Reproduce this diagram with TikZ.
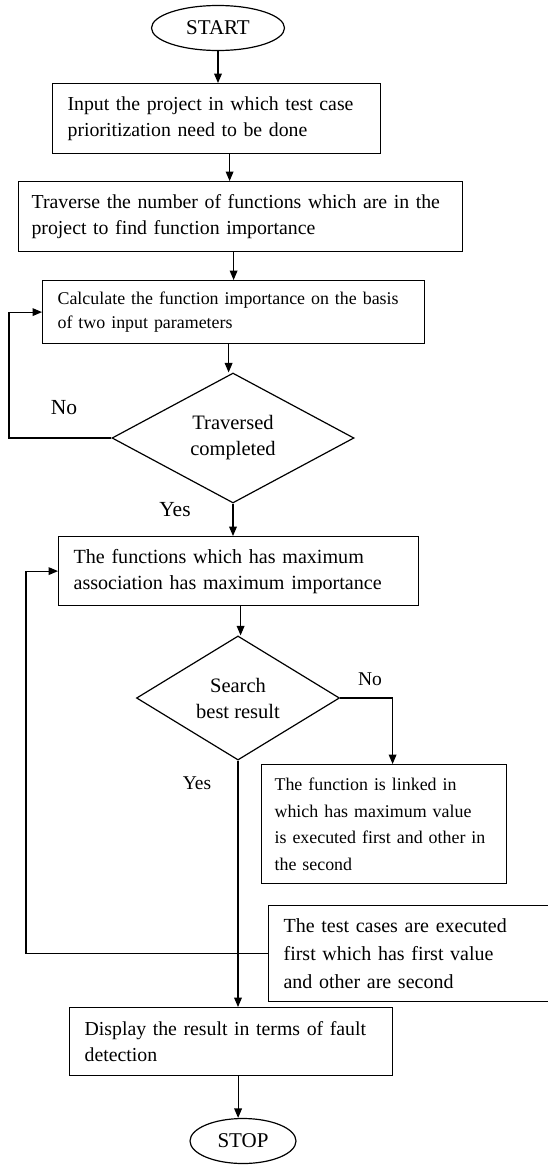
\documentclass[tikz,border=0pt]{standalone}
\usepackage{fontspec}
\setmainfont{Liberation Serif}
\usetikzlibrary{shapes.geometric,arrows}

\begin{document}
\begin{tikzpicture}[x=1pt,y=-1pt,>=triangle 45,line width=1.2pt,
        every node/.style={font=\fontsize{19.8}{26.5}\selectfont},
        smalltext/.style={font=\fontsize{17.9}{24}\selectfont},
        procbox/.style={draw,anchor=north west,align=left,inner xsep=15pt,inner ysep=0pt},
        decision/.style={draw,diamond,inner sep=0pt,align=center,font=\fontsize{20.5}{26}\selectfont},
        terminal/.style={draw,ellipse,inner sep=0pt,minimum height=45pt,font=\fontsize{21}{24}\selectfont},
        flow/.style={->},
        ]
        \useasboundingbox (0,0) rectangle (547,1165);
        \node (start) at (218,28) [terminal,minimum width=133pt] {START};
        \node (input) at (52,83) [procbox,text width=298pt,minimum height=70pt]
            {Input the project in which test case\\prioritization need to be done};
        \node (traverse) at (18,181) [procbox,inner xsep=13pt,text width=418pt,minimum height=70pt]
            {Traverse the number of functions which are in the\\project to find function importance};
        \node (calc) at (42,280) [procbox,smalltext,text width=352pt,minimum height=63pt]
            {Calculate the function importance on the basis\\of two input parameters};
        \node (travdone) at (233,438) [decision,minimum width=242pt,minimum height=113pt]
            {Traversed\\completed};
        \node (maxassoc) at (58,536) [procbox,font=\fontsize{20.1}{26}\selectfont,text width=330pt,minimum height=69pt]
            {The functions which has maximum\\association has maximum importance};
        \node (search) at (238,698) [decision,minimum width=203pt,minimum height=111pt]
            {Search\\best result};
        \node (linked) at (261,764) [procbox,inner xsep=13pt,font=\fontsize{17.9}{26.5}\selectfont,text width=219pt,minimum height=119pt]
            {The function is linked in\\which has maximum value\\is executed first and other in\\the second};
        \node (testcases) at (268,905) [procbox,font=\fontsize{20}{28}\selectfont,text width=252pt,minimum height=96pt]
            {The test cases are executed\\first which has first value\\and other are second};
        \node (display) at (69,1007) [procbox,text width=293pt,minimum height=68pt]
            {Display the result in terms of fault\\detection};
        \node (stop) at (243,1141) [terminal,minimum width=106pt] {STOP};

        \node (noA) at (64,408) [font=\fontsize{21.5}{24}\selectfont] {No};
        \node (yesA) at (175,510) [font=\fontsize{21.5}{24}\selectfont] {Yes};
        \node (noB) at (370,679) [font=\fontsize{19.5}{24}\selectfont] {No};
        \node (yesB) at (197,783) [font=\fontsize{19.5}{24}\selectfont] {Yes};

        \coordinate (loopA) at (9,0);
        \coordinate (loopB) at (26,0);

        \draw[flow] (start.south) -- (start.south |- input.north);
        \draw[flow] ([xshift=13pt]input.south) -- ([xshift=13pt]input.south |- traverse.north);
        \draw[flow] ([xshift=-7pt]traverse.south) -- ([xshift=-7pt]traverse.south |- calc.north);
        \draw[flow] ([xshift=-5pt]calc.south) -- ([xshift=-5pt]calc.south |- travdone.north);
        \draw[flow] (travdone.south) -- (travdone.south |- maxassoc.north);
        \draw[flow] (travdone.west) -- (travdone.west -| loopA) |- (calc.west);
        \draw[flow] ([xshift=2pt]maxassoc.south) -- ([xshift=2pt]maxassoc.south |- search.north);
        \draw[flow] (search.east) -| ([xshift=8.5pt]linked.north);
        \draw[flow] (search.south) -- (search.south |- display.north);
        \draw[flow] (testcases.west) -- (testcases.west -| loopB) |- (maxassoc.west);
        \draw[flow] ([xshift=7pt]display.south) -- ([xshift=7pt]display.south |- stop.north);
      \end{tikzpicture}
\end{document}
